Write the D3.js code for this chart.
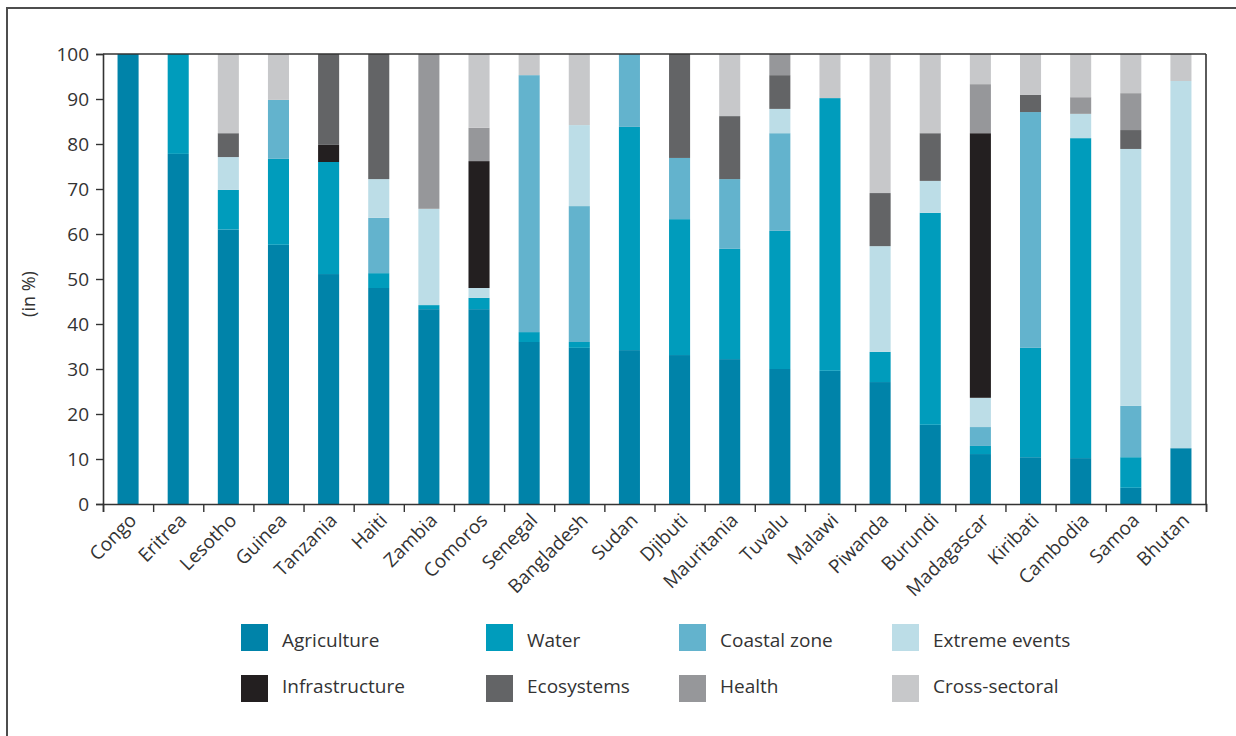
<!DOCTYPE html>
<html>
<head>
<meta charset="utf-8">
<script src="https://cdn.jsdelivr.net/npm/d3@7"></script>
<style>
  html, body { margin: 0; padding: 0; background: #fff; }
  svg { display: block; font-family: "Open Sans", "Noto Sans", sans-serif; }
</style>
</head>
<body>
<svg id="chart" width="1236" height="736"></svg>
<script>
const countries = ["Congo","Eritrea","Lesotho","Guinea","Tanzania","Haiti","Zambia","Comoros","Senegal","Bangladesh","Sudan","Djibuti","Mauritania","Tuvalu","Malawi","Piwanda","Burundi","Madagascar","Kiribati","Cambodia","Samoa","Bhutan"];

const agriculture    = [100, 77.8, 61.0, 57.6, 51.1, 48.0, 43.3, 43.3, 36.0, 34.7, 34.2, 33.1, 32.2, 30.0, 29.6, 27.1, 17.6, 11.1, 10.4, 10.2, 3.6, 12.4];
const water          = [0, 22.2, 8.8, 19.1, 24.9, 3.3, 0.9, 2.5, 2.2, 1.3, 49.6, 30.2, 24.5, 30.7, 60.6, 6.7, 47.1, 1.8, 24.3, 71.1, 6.8, 0];
const coastalZone    = [0, 0, 0, 13.1, 0, 12.3, 0, 0, 57.1, 30.2, 16.2, 13.6, 15.5, 21.7, 0, 0, 0, 4.2, 52.4, 0, 11.4, 0];
const extremeEvents  = [0, 0, 7.3, 0, 0, 8.6, 21.4, 2.2, 0, 18.0, 0, 0, 0, 5.4, 0, 23.5, 7.1, 6.5, 0, 5.4, 57.1, 81.6];
const infrastructure = [0, 0, 0, 0, 3.8, 0, 0, 28.2, 0, 0, 0, 0, 0, 0, 0, 0, 0, 58.8, 0, 0, 0, 0];
const ecosystems     = [0, 0, 5.3, 0, 20.2, 27.8, 0, 0, 0, 0, 0, 23.1, 14.0, 7.5, 0, 11.8, 10.6, 0, 3.8, 0, 4.2, 0];
const health         = [0, 0, 0, 0, 0, 0, 34.4, 7.4, 0, 0, 0, 0, 0, 4.7, 0, 0, 0, 10.9, 0, 3.7, 8.2, 0];
const crossSectoral  = [0, 0, 17.6, 10.2, 0, 0, 0, 16.4, 4.7, 15.8, 0, 0, 13.8, 0, 9.8, 30.9, 17.6, 6.7, 9.1, 9.6, 8.7, 6.0];

const seriesNames  = ["Agriculture","Water","Coastal zone","Extreme events","Infrastructure","Ecosystems","Health","Cross-sectoral"];
const seriesValues = [agriculture, water, coastalZone, extremeEvents, infrastructure, ecosystems, health, crossSectoral];
const seriesColors = ["#0083a9","#009cbc","#63b3cd","#bcdde7","#231f20","#636466","#96979a","#c7c8ca"];
const yTicks = [0,10,20,30,40,50,60,70,80,90,100];

const table = countries.map((c, i) => {
  const row = { country: c };
  seriesNames.forEach((s, k) => row[s] = seriesValues[k][i]);
  return row;
});

const svg = d3.select("#chart");
const W = 1236, H = 736;
const m = { left: 103, right: 30, top: 54, bottom: 232 };
const x0 = m.left, x1 = 1206, y0 = 504, y1 = 54;

// outer frame
svg.append("rect").attr("x", 7).attr("y", 8).attr("width", 1300).attr("height", 800)
  .attr("fill", "none").attr("stroke", "#4d4d4d").attr("stroke-width", 2);

const x = d3.scaleBand().domain(countries).range([x0, x1]).paddingInner(0.58).paddingOuter(0.29);
const y = d3.scaleLinear().domain([0, 100]).range([y0, y1]);
const color = d3.scaleOrdinal().domain(seriesNames).range(seriesColors);

const stack = d3.stack().keys(seriesNames);
const layers = stack(table);

svg.append("g").selectAll("g").data(layers).join("g")
  .attr("fill", d => color(d.key))
  .selectAll("rect").data(d => d).join("rect")
  .attr("x", d => x(d.data.country))
  .attr("width", x.bandwidth())
  .attr("y", d => y(d[1]))
  .attr("height", d => Math.max(0, y(d[0]) - y(d[1])));

// plot frame top & right
svg.append("line").attr("x1", x0).attr("x2", x1).attr("y1", y1).attr("y2", y1)
  .attr("stroke", "#333").attr("stroke-width", 1.6);
svg.append("line").attr("x1", x1).attr("x2", x1).attr("y1", y1).attr("y2", y0)
  .attr("stroke", "#333").attr("stroke-width", 1.6);

// y axis
const yAxis = svg.append("g").attr("transform", `translate(${x0},0)`)
  .call(d3.axisLeft(y).tickValues(yTicks).tickSize(7).tickPadding(7).tickFormat(d3.format("d")));
yAxis.select(".domain").attr("stroke", "#333").attr("stroke-width", 1.6);
yAxis.selectAll(".tick line").attr("stroke", "#333").attr("stroke-width", 1.4);
yAxis.selectAll("text").attr("font-size", 19).attr("fill", "#333").attr("font-family", "Open Sans");

// x axis: ticks at band boundaries
const xBounds = d3.scaleLinear().domain([0, countries.length]).range([x0, x1]);
const xAxis = svg.append("g").attr("transform", `translate(0,${y0})`)
  .call(d3.axisBottom(xBounds).tickValues(d3.range(0, countries.length + 1)).tickSize(8).tickFormat(""));
xAxis.select(".domain").attr("stroke", "#333").attr("stroke-width", 1.6);
xAxis.selectAll(".tick line").attr("stroke", "#333").attr("stroke-width", 1.4);

svg.append("g").selectAll("text").data(countries).join("text")
  .attr("transform", d => `translate(${x(d) + x.bandwidth() / 2 + 6},${y0 + 14}) rotate(-45)`)
  .attr("text-anchor", "end")
  .attr("dominant-baseline", "middle")
  .attr("font-size", 19).attr("fill", "#333")
  .text(d => d);

// y label
svg.append("text")
  .attr("transform", `translate(35,294) rotate(-90)`)
  .attr("text-anchor", "middle")
  .attr("font-size", 18).attr("fill", "#333")
  .text("(in %)");

// legend
const legX = [241, 486, 679, 892];
const legY = [624, 675];
const leg = svg.append("g").selectAll("g").data(seriesNames).join("g")
  .attr("transform", (d, i) => `translate(${legX[i % 4]},${legY[Math.floor(i / 4)]})`);
leg.append("rect").attr("width", 27).attr("height", 27).attr("fill", d => color(d));
leg.append("text").attr("x", 41).attr("y", (d, i) => i < 4 ? 23 : 18)
  .attr("font-size", 19).attr("fill", "#333").text(d => d);
</script>
</body>
</html>
